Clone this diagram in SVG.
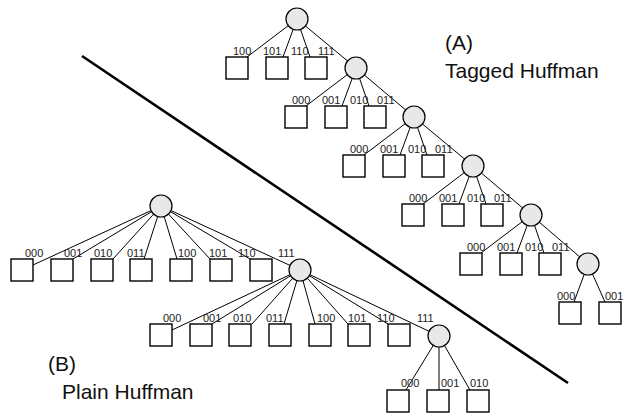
<svg xmlns="http://www.w3.org/2000/svg" width="623" height="417" viewBox="0 0 623 417">
  <style>
    .edge { stroke: #000; stroke-width: 1; fill: none; }
    .inner { fill: #e8e8e8; stroke: #000; stroke-width: 1.2; }
    .leaf { fill: #fff; stroke: #000; stroke-width: 1.4; }
    .code { font-family: "Liberation Sans", Arial, sans-serif; font-size: 11px; fill: #222; }
    .title { font-family: "Liberation Sans", Arial, sans-serif; font-size: 21px; fill: #111; }
    .divider { stroke: #000; stroke-width: 2.6; stroke-linecap: butt; }
  </style>
  <rect width="623" height="417" fill="#fff"/>

  <!-- separating line -->
  <line class="divider" x1="82" y1="56" x2="568" y2="383"/>

  <!-- connectors -->
  <g id="connectors" class="edge">
    <!-- tagged tree -->
    <line x1="297" y1="19" x2="247" y2="57"/>
    <line x1="297" y1="19" x2="283" y2="57"/>
    <line x1="297" y1="19" x2="310" y2="57"/>
    <line x1="297" y1="19" x2="356" y2="68"/>
    <line x1="356" y1="68" x2="306" y2="106"/>
    <line x1="356" y1="68" x2="342" y2="106"/>
    <line x1="356" y1="68" x2="369" y2="106"/>
    <line x1="356" y1="68" x2="414" y2="117"/>
    <line x1="414" y1="117" x2="364" y2="155"/>
    <line x1="414" y1="117" x2="400" y2="155"/>
    <line x1="414" y1="117" x2="427" y2="155"/>
    <line x1="414" y1="117" x2="473" y2="166"/>
    <line x1="473" y1="166" x2="423" y2="204"/>
    <line x1="473" y1="166" x2="459" y2="204"/>
    <line x1="473" y1="166" x2="486" y2="204"/>
    <line x1="473" y1="166" x2="531" y2="215"/>
    <line x1="531" y1="215" x2="481" y2="253"/>
    <line x1="531" y1="215" x2="517" y2="253"/>
    <line x1="531" y1="215" x2="544" y2="253"/>
    <line x1="531" y1="215" x2="588" y2="264"/>
    <line x1="588" y1="264" x2="574" y2="302"/>
    <line x1="588" y1="264" x2="605" y2="302"/>
    <!-- plain tree -->
    <line x1="161" y1="206" x2="33" y2="265"/>
    <line x1="161" y1="206" x2="73" y2="259"/>
    <line x1="161" y1="206" x2="113" y2="259"/>
    <line x1="161" y1="206" x2="144" y2="259"/>
    <line x1="161" y1="206" x2="177" y2="259"/>
    <line x1="161" y1="206" x2="210" y2="259"/>
    <line x1="161" y1="206" x2="250" y2="259"/>
    <line x1="161" y1="206" x2="300" y2="270"/>
    <line x1="300" y1="270" x2="172" y2="330"/>
    <line x1="300" y1="270" x2="212" y2="324"/>
    <line x1="300" y1="270" x2="252" y2="324"/>
    <line x1="300" y1="270" x2="284" y2="324"/>
    <line x1="300" y1="270" x2="315" y2="324"/>
    <line x1="300" y1="270" x2="348" y2="324"/>
    <line x1="300" y1="270" x2="388" y2="324"/>
    <line x1="300" y1="270" x2="439" y2="336"/>
    <line x1="439" y1="336" x2="406" y2="390"/>
    <line x1="439" y1="336" x2="439" y2="390"/>
    <line x1="439" y1="336" x2="470" y2="390"/>
  </g>

  <!-- tagged Huffman tree -->
  <g id="a-n0"><circle class="inner" cx="297" cy="19" r="11"/></g>
  <g id="a-n0-100"><rect class="leaf" x="226" y="57" width="22" height="22"/><text class="code" x="233" y="55">100</text></g>
  <g id="a-n0-101"><rect class="leaf" x="266" y="57" width="22" height="22"/><text class="code" x="263" y="55">101</text></g>
  <g id="a-n0-110"><rect class="leaf" x="305" y="57" width="22" height="22"/><text class="code" x="291" y="55">110</text></g>
  <g id="a-n0-111"><text class="code" x="318" y="55">111</text></g>

  <g id="a-n1"><circle class="inner" cx="356" cy="68" r="11"/></g>
  <g id="a-n1-000"><rect class="leaf" x="285" y="106" width="22" height="22"/><text class="code" x="292" y="104">000</text></g>
  <g id="a-n1-001"><rect class="leaf" x="325" y="106" width="22" height="22"/><text class="code" x="322" y="104">001</text></g>
  <g id="a-n1-010"><rect class="leaf" x="364" y="106" width="22" height="22"/><text class="code" x="350" y="104">010</text></g>
  <g id="a-n1-011"><text class="code" x="377" y="104">011</text></g>

  <g id="a-n2"><circle class="inner" cx="414" cy="117" r="11"/></g>
  <g id="a-n2-000"><rect class="leaf" x="343" y="155" width="22" height="22"/><text class="code" x="350" y="153">000</text></g>
  <g id="a-n2-001"><rect class="leaf" x="383" y="155" width="22" height="22"/><text class="code" x="380" y="153">001</text></g>
  <g id="a-n2-010"><rect class="leaf" x="422" y="155" width="22" height="22"/><text class="code" x="408" y="153">010</text></g>
  <g id="a-n2-011"><text class="code" x="435" y="153">011</text></g>

  <g id="a-n3"><circle class="inner" cx="473" cy="166" r="11"/></g>
  <g id="a-n3-000"><rect class="leaf" x="402" y="204" width="22" height="22"/><text class="code" x="409" y="202">000</text></g>
  <g id="a-n3-001"><rect class="leaf" x="442" y="204" width="22" height="22"/><text class="code" x="439" y="202">001</text></g>
  <g id="a-n3-010"><rect class="leaf" x="481" y="204" width="22" height="22"/><text class="code" x="467" y="202">010</text></g>
  <g id="a-n3-011"><text class="code" x="494" y="202">011</text></g>

  <g id="a-n4"><circle class="inner" cx="531" cy="215" r="11"/></g>
  <g id="a-n4-000"><rect class="leaf" x="460" y="253" width="22" height="22"/><text class="code" x="467" y="251">000</text></g>
  <g id="a-n4-001"><rect class="leaf" x="500" y="253" width="22" height="22"/><text class="code" x="497" y="251">001</text></g>
  <g id="a-n4-010"><rect class="leaf" x="539" y="253" width="22" height="22"/><text class="code" x="525" y="251">010</text></g>
  <g id="a-n4-011"><text class="code" x="552" y="251">011</text></g>

  <g id="a-n5"><circle class="inner" cx="588" cy="264" r="11"/></g>
  <g id="a-n5-000"><rect class="leaf" x="559" y="302" width="22" height="22"/><text class="code" x="557" y="300">000</text></g>
  <g id="a-n5-001"><rect class="leaf" x="599" y="302" width="22" height="22"/><text class="code" x="605" y="300">001</text></g>

  <!-- plain Huffman tree -->
  <g id="b-n0"><circle class="inner" cx="161" cy="206" r="11"/></g>
  <g id="b-n0-000"><rect class="leaf" x="11" y="259" width="22" height="22"/><text class="code" x="25" y="257">000</text></g>
  <g id="b-n0-001"><rect class="leaf" x="51" y="259" width="22" height="22"/><text class="code" x="64" y="257">001</text></g>
  <g id="b-n0-010"><rect class="leaf" x="91" y="259" width="22" height="22"/><text class="code" x="94" y="257">010</text></g>
  <g id="b-n0-011"><rect class="leaf" x="130" y="259" width="22" height="22"/><text class="code" x="127" y="257">011</text></g>
  <g id="b-n0-100"><rect class="leaf" x="170" y="259" width="22" height="22"/><text class="code" x="178" y="257">100</text></g>
  <g id="b-n0-101"><rect class="leaf" x="210" y="259" width="22" height="22"/><text class="code" x="209" y="257">101</text></g>
  <g id="b-n0-110"><rect class="leaf" x="250" y="259" width="22" height="22"/><text class="code" x="238" y="257">110</text></g>
  <g id="b-n0-111"><text class="code" x="278" y="257">111</text></g>

  <g id="b-n1"><circle class="inner" cx="300" cy="270" r="11"/></g>
  <g id="b-n1-000"><rect class="leaf" x="150" y="324" width="22" height="22"/><text class="code" x="163" y="322">000</text></g>
  <g id="b-n1-001"><rect class="leaf" x="190" y="324" width="22" height="22"/><text class="code" x="203" y="322">001</text></g>
  <g id="b-n1-010"><rect class="leaf" x="229" y="324" width="22" height="22"/><text class="code" x="233" y="322">010</text></g>
  <g id="b-n1-011"><rect class="leaf" x="269" y="324" width="22" height="22"/><text class="code" x="266" y="322">011</text></g>
  <g id="b-n1-100"><rect class="leaf" x="309" y="324" width="22" height="22"/><text class="code" x="317" y="322">100</text></g>
  <g id="b-n1-101"><rect class="leaf" x="348" y="324" width="22" height="22"/><text class="code" x="348" y="322">101</text></g>
  <g id="b-n1-110"><rect class="leaf" x="388" y="324" width="22" height="22"/><text class="code" x="377" y="322">110</text></g>
  <g id="b-n1-111"><text class="code" x="417" y="322">111</text></g>

  <g id="b-n2"><circle class="inner" cx="439" cy="336" r="11"/></g>
  <g id="b-n2-000"><rect class="leaf" x="387" y="390" width="22" height="22"/><text class="code" x="401" y="387">000</text></g>
  <g id="b-n2-001"><rect class="leaf" x="427" y="390" width="22" height="22"/><text class="code" x="441" y="387">001</text></g>
  <g id="b-n2-010"><rect class="leaf" x="467" y="390" width="22" height="22"/><text class="code" x="470" y="387">010</text></g>

  <!-- captions -->
  <g id="caption-a">
    <text class="title" x="445" y="50">(A)</text>
    <text class="title" x="445" y="78">Tagged Huffman</text>
  </g>
  <g id="caption-b">
    <text class="title" x="48" y="371">(B)</text>
    <text class="title" x="62" y="399">Plain Huffman</text>
  </g>
</svg>
